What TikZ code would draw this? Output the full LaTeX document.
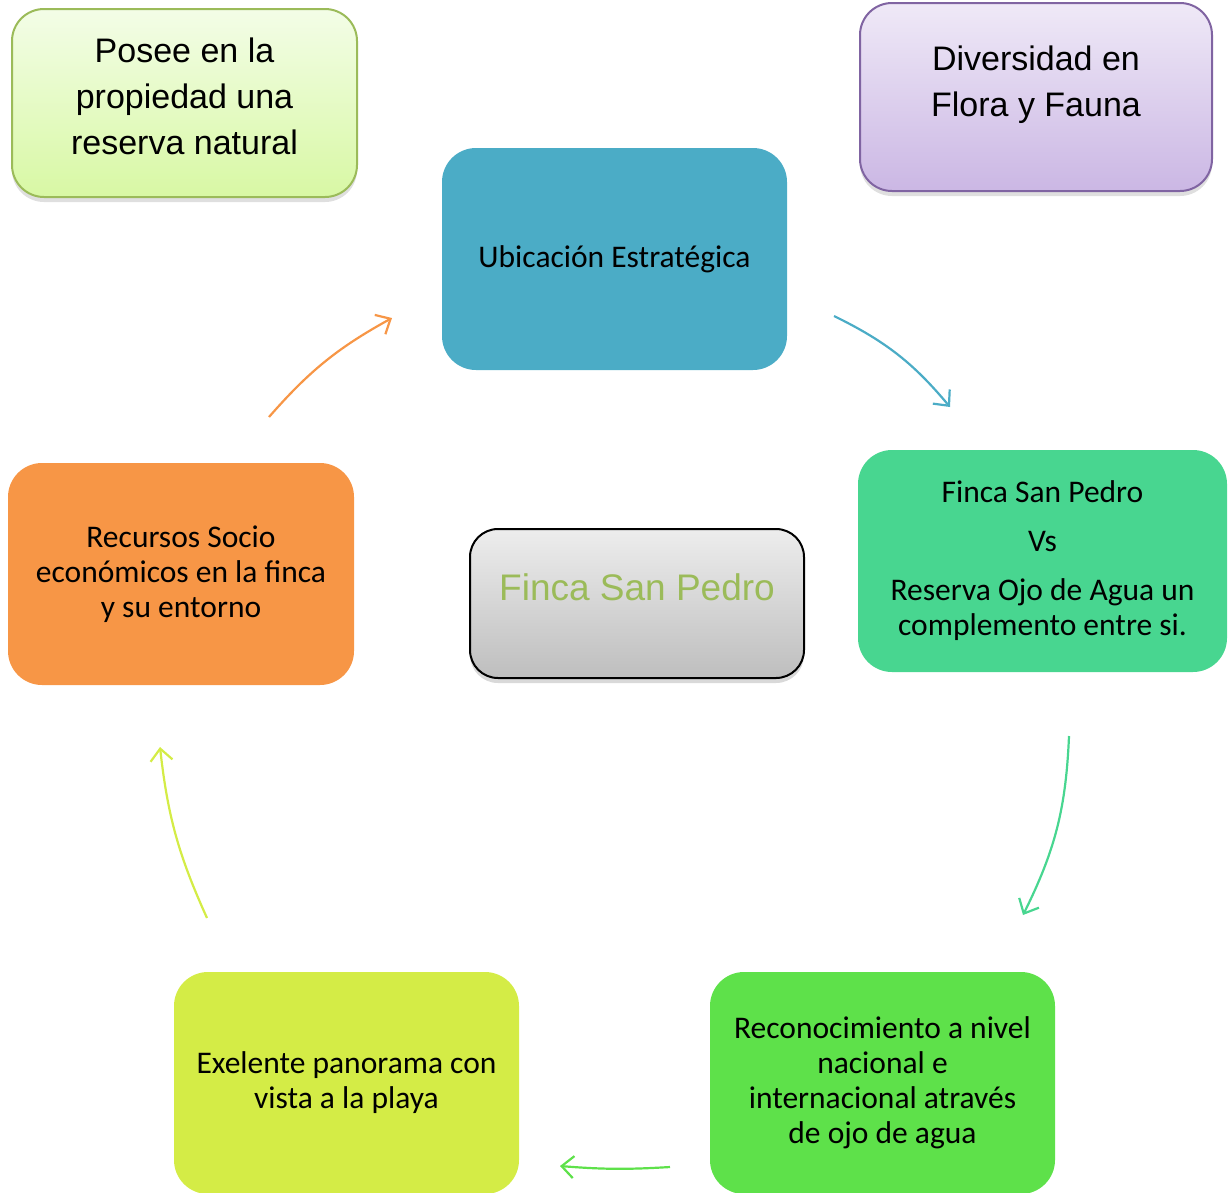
\documentclass[tikz,border=0pt]{standalone}
\usepackage{fontspec}
\setmainfont{Carlito}
\newfontfamily\ArialLike{Liberation Sans}
\usepackage{tikz}
\usetikzlibrary{shadows}
\usepackage{xcolor}
\usetikzlibrary {arrows.meta,positioning,calc}
\definecolor{UbicacionFill}{HTML}{4BACC6}
\definecolor{FincaVsFill}{HTML}{48D690}
\definecolor{RecursosFill}{HTML}{F79646}
\definecolor{ReconocimientoFill}{HTML}{5EE14A}
\definecolor{PanoramaFill}{HTML}{D4EC46}
\definecolor{ReservaTop}{HTML}{F3FDE7}
\definecolor{ReservaBottom}{HTML}{D8F8A4}
\definecolor{ReservaBorder}{HTML}{9BBB59}
\definecolor{DiversidadTop}{HTML}{EFE9F7}
\definecolor{DiversidadBottom}{HTML}{CBB7E4}
\definecolor{DiversidadBorder}{HTML}{8064A2}
\definecolor{CenterTop}{HTML}{EDEDED}
\definecolor{CenterBottom}{HTML}{BEBEBE}
\definecolor{CenterText}{HTML}{9BBB59}
\tikzstyle{CycleStep} =[rounded corners=34pt,minimum width=345pt,minimum height=222pt,inner sep=0pt,align=center,font=\fontsize{31.5}{35}\selectfont]
\tikzstyle{NoteBox} =[draw,line width=2pt,rounded corners=32pt,minimum height=188pt,inner sep=0pt,align=center,font=\ArialLike\fontsize{34}{46}\selectfont,drop shadow={shadow xshift=0pt,shadow yshift=-5pt,opacity=0.25}]
\tikzstyle{CenterBox} =[draw=black,line width=2pt,rounded corners=28pt,minimum width=334pt,minimum height=149pt,inner sep=0pt,top color=CenterTop,bottom color=CenterBottom,text=CenterText,font=\ArialLike\fontsize{37}{44}\selectfont,drop shadow={shadow xshift=0pt,shadow yshift=-5pt,opacity=0.3}]
\tikzstyle{CycleArrow} =[line width=2.2pt,-{Straight Barb[length=12pt,width=22pt]}]

\begin{document}
\begin{tikzpicture}[x=1pt,y=-1pt,on grid]
    \useasboundingbox (0,0) rectangle (1229,1192);

    \node[CycleStep,fill=UbicacionFill](Ubicacion) at (614.5,259){Ubicación Estratégica};
    \node[CycleStep,fill=FincaVsFill,minimum width=369pt,below right=302pt and 428pt of Ubicacion](FincaVs){Finca San Pedro\\[14pt] Vs\\[14pt] Reserva Ojo de Agua un\\ complemento entre si.};
    \node[CycleStep,fill=RecursosFill,minimum width=346pt,below left=315pt and 433.5pt of Ubicacion](Recursos){Recursos Socio\\ económicos en la finca\\ y su entorno};
    \node[CycleStep,fill=PanoramaFill,below right=509pt and 165.5pt of Recursos](Panorama){Exelente panorama con\\ vista a la playa};
    \node[CycleStep,fill=ReconocimientoFill,right=536pt of Panorama](Reconocimiento){Reconocimiento a nivel\\ nacional e\\ internacional através\\ de ojo de agua};

    \node[CenterBox,text depth=32pt,below right=344.5pt and 22.5pt of Ubicacion](Centro){Finca San Pedro};

    \node[NoteBox,draw=ReservaBorder,top color=ReservaTop,bottom color=ReservaBottom,minimum width=345pt,text depth=14pt,above left=156pt and 430pt of Ubicacion](Reserva){Posee en la\\ propiedad una\\ reserva natural};
    \node[NoteBox,draw=DiversidadBorder,top color=DiversidadTop,bottom color=DiversidadBottom,minimum width=352pt,text depth=31pt,above right=162pt and 421.5pt of Ubicacion](Diversidad){Diversidad en\\ Flora y Fauna};

    % free ends of the cycle arrows
    \coordinate (UbicacionOut) at (834,316);
    \coordinate (FincaVsIn) at (950,407);
    \coordinate (FincaVsOut) at (1069,736);
    \coordinate (ReconocimientoIn) at (1023,915);
    \coordinate (ReconocimientoOut) at (670,1167);
    \coordinate (PanoramaIn) at (560,1166);
    \coordinate (PanoramaOut) at (207,918);
    \coordinate (RecursosIn) at (160,747);
    \coordinate (RecursosOut) at (269,417);
    \coordinate (UbicacionIn) at (392,318);

    \draw[CycleArrow,draw=UbicacionFill] (UbicacionOut) to[bend left=12] (FincaVsIn);
    \draw[CycleArrow,draw=FincaVsFill] (FincaVsOut) to[bend left=12] (ReconocimientoIn);
    \draw[CycleArrow,draw=ReconocimientoFill] (ReconocimientoOut) to[bend left=4] (PanoramaIn);
    \draw[CycleArrow,draw=PanoramaFill] (PanoramaOut) to[bend left=9] (RecursosIn);
    \draw[CycleArrow,draw=RecursosFill] (RecursosOut) to[bend left=10] (UbicacionIn);
\end{tikzpicture}
\end{document}
